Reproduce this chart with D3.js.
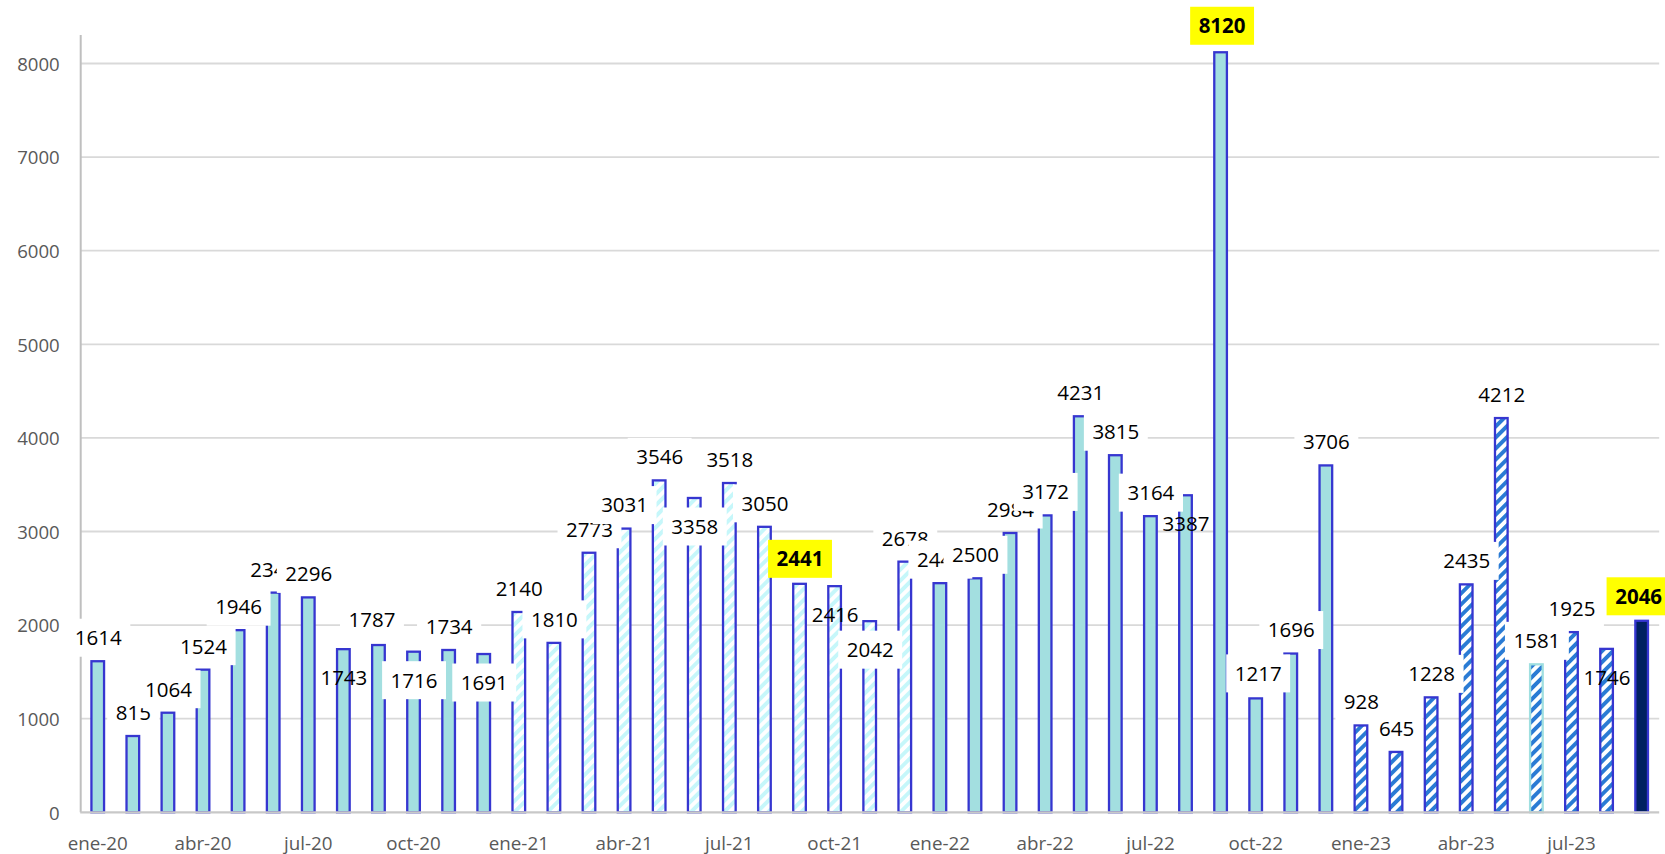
<!DOCTYPE html>
<html><head><meta charset="utf-8">
<script src="https://cdn.jsdelivr.net/npm/d3@7"></script>
<style>html,body{margin:0;padding:0;background:#fff;} svg{display:block;}</style>
</head><body>
<svg id="chart" width="1665" height="854"></svg>
<script>
// ---------- DATA ----------
const months = ["ene-20","feb-20","mar-20","abr-20","may-20","jun-20","jul-20","ago-20","sep-20","oct-20","nov-20","dic-20",
  "ene-21","feb-21","mar-21","abr-21","may-21","jun-21","jul-21","ago-21","sep-21","oct-21","nov-21","dic-21",
  "ene-22","feb-22","mar-22","abr-22","may-22","jun-22","jul-22","ago-22","sep-22","oct-22","nov-22","dic-22",
  "ene-23","feb-23","mar-23","abr-23","may-23","jun-23","jul-23","ago-23","sep-23"];
const values = [1614,815,1064,1524,1946,2347,2296,1743,1787,1716,1734,1691,
  2140,1810,2773,3031,3546,3358,3518,3050,2441,2416,2042,2678,
  2448,2500,2984,3172,4231,3815,3164,3387,8120,1217,1696,3706,
  928,645,1228,2435,4212,1581,1925,1746,2046];
const barKind = ["solid","solid","solid","solid","solid","solid","solid","solid","solid","solid","solid","solid",
  "light","light","light","light","light","light","light","light","light","light","light","light",
  "solid","solid","solid","solid","solid","solid","solid","solid","solid","solid","solid","solid",
  "blue","blue","blue","blue","blue","blueTeal","blue","blue","navy"];
const yTicks = [0,1000,2000,3000,4000,5000,6000,7000,8000];
const xTickLabels = ["ene-20","abr-20","jul-20","oct-20","ene-21","abr-21","jul-21","oct-21","ene-22","abr-22","jul-22","oct-22","ene-23","abr-23","jul-23"];
const highlighted = ["sep-21","sep-22","sep-23"];

// ---------- LAYOUT (label placement, not data) ----------
const insideLabels = [7,9,11,17,21,22,31,43];
const noBoxLabels = [7,18,21,31,43];
const labelNudge = {8:[-7,-1.5],20:[0,-1.5],32:[1,-3],33:[2,-1.5],44:[-3.5,-1]};

// ---------- CHART ----------
const svg = d3.select("#chart");
svg.append("rect").attr("width",1665).attr("height",854).attr("fill","#fff");

const x = d3.scaleBand().domain(months).range([80.2,1659.2]).paddingInner(0.64).paddingOuter(0.32);
const y = d3.scaleLinear().domain([0,8000]).range([812.3,63.5]);

const defs = svg.append("defs");
function stripes(id, bg, fg){
  const p = defs.append("pattern").attr("id",id).attr("patternUnits","userSpaceOnUse")
    .attr("width",7.8).attr("height",7.8).attr("patternTransform","rotate(45)");
  p.append("rect").attr("width",7.8).attr("height",7.8).attr("fill",bg);
  p.append("rect").attr("width",3.9).attr("height",7.8).attr("fill",fg);
}
stripes("lightHatch","#ffffff","#c6f7fa");
stripes("blueHatch","#ffffff","#2a7bd4");

const fills = {solid:"#a3dfe0", light:"url(#lightHatch)", blue:"url(#blueHatch)", blueTeal:"url(#blueHatch)", navy:"#002060"};
const strokes = {solid:"#3636d0", light:"#3636d0", blue:"#3636d0", blueTeal:"#9fdfe0", navy:"#3636d0"};

// gridlines
svg.append("g").selectAll("line").data(yTicks.filter(t=>t>0)).join("line")
  .attr("x1",80.2).attr("x2",1659.2)
  .attr("y1",d=>y(d)).attr("y2",d=>y(d))
  .attr("stroke","#d9d9d9").attr("stroke-width",1.8);

// y axis
const yAxis = svg.append("g").attr("transform","translate(80.7,0)")
  .call(d3.axisLeft(y).tickValues(yTicks).tickSize(0).tickPadding(21).tickFormat(d3.format("d")));
yAxis.select(".domain").remove();
yAxis.selectAll("text").attr("font-family","'Open Sans'").attr("font-size","18.6px").attr("fill","#595959").attr("dy","0.36em");
svg.append("line").attr("x1",80.7).attr("x2",80.7).attr("y1",y(8000)-28.5).attr("y2",y(0))
  .attr("stroke","#bfbfbf").attr("stroke-width",2);

// bars
const bars = months.map((m,i)=>({m, v:values[i], k:barKind[i], i}));
svg.append("g").selectAll("rect").data(bars).join("rect")
  .attr("x",d=>x(d.m)).attr("width",x.bandwidth())
  .attr("y",d=>y(d.v)).attr("height",d=>y(0)-y(d.v))
  .attr("fill",d=>fills[d.k]).attr("stroke",d=>strokes[d.k]).attr("stroke-width",2.3);

// x axis baseline + labels
const xAxis = svg.append("g").attr("transform",`translate(0,${y(0)})`)
  .call(d3.axisBottom(x).tickValues(xTickLabels).tickSize(0));
xAxis.select(".domain").remove();
xAxis.selectAll("text").attr("y",31).attr("dy","0.36em")
  .attr("font-family","'Open Sans'").attr("font-size","18.8px").attr("fill","#595959");
svg.append("line").attr("x1",80.2).attr("x2",1659.2).attr("y1",y(0)).attr("y2",y(0))
  .attr("stroke","#c8c8c8").attr("stroke-width",2.2);

// data labels
const lg = svg.append("g");
bars.forEach(d=>{
  const hi = highlighted.includes(d.m);
  const nudge = labelNudge[d.i] || [0,0];
  const cx = x(d.m) + x.bandwidth()/2 + 0.5 + nudge[0];
  const cy = insideLabels.includes(d.i) ? y(d.v) + 28.5 + nudge[1] : y(d.v) - 23.5 + nudge[1];
  const g = lg.append("g");
  const box = g.append("rect");
  const t = g.append("text").attr("x",cx).attr("y",cy).attr("dy","0.36em")
    .attr("text-anchor","middle").attr("font-family","'Open Sans'")
    .attr("font-size","20.5px").attr("font-weight",hi?"700":"400").attr("fill","#000")
    .text(d.v);
  const w = t.node().getBBox().width + 17;
  if (hi || !noBoxLabels.includes(d.i)) {
    box.attr("x",cx-w/2).attr("y",cy-19).attr("width",w).attr("height",38)
      .attr("fill",hi?"#ffff00":"#ffffff");
  } else box.remove();
});
</script>
</body></html>
